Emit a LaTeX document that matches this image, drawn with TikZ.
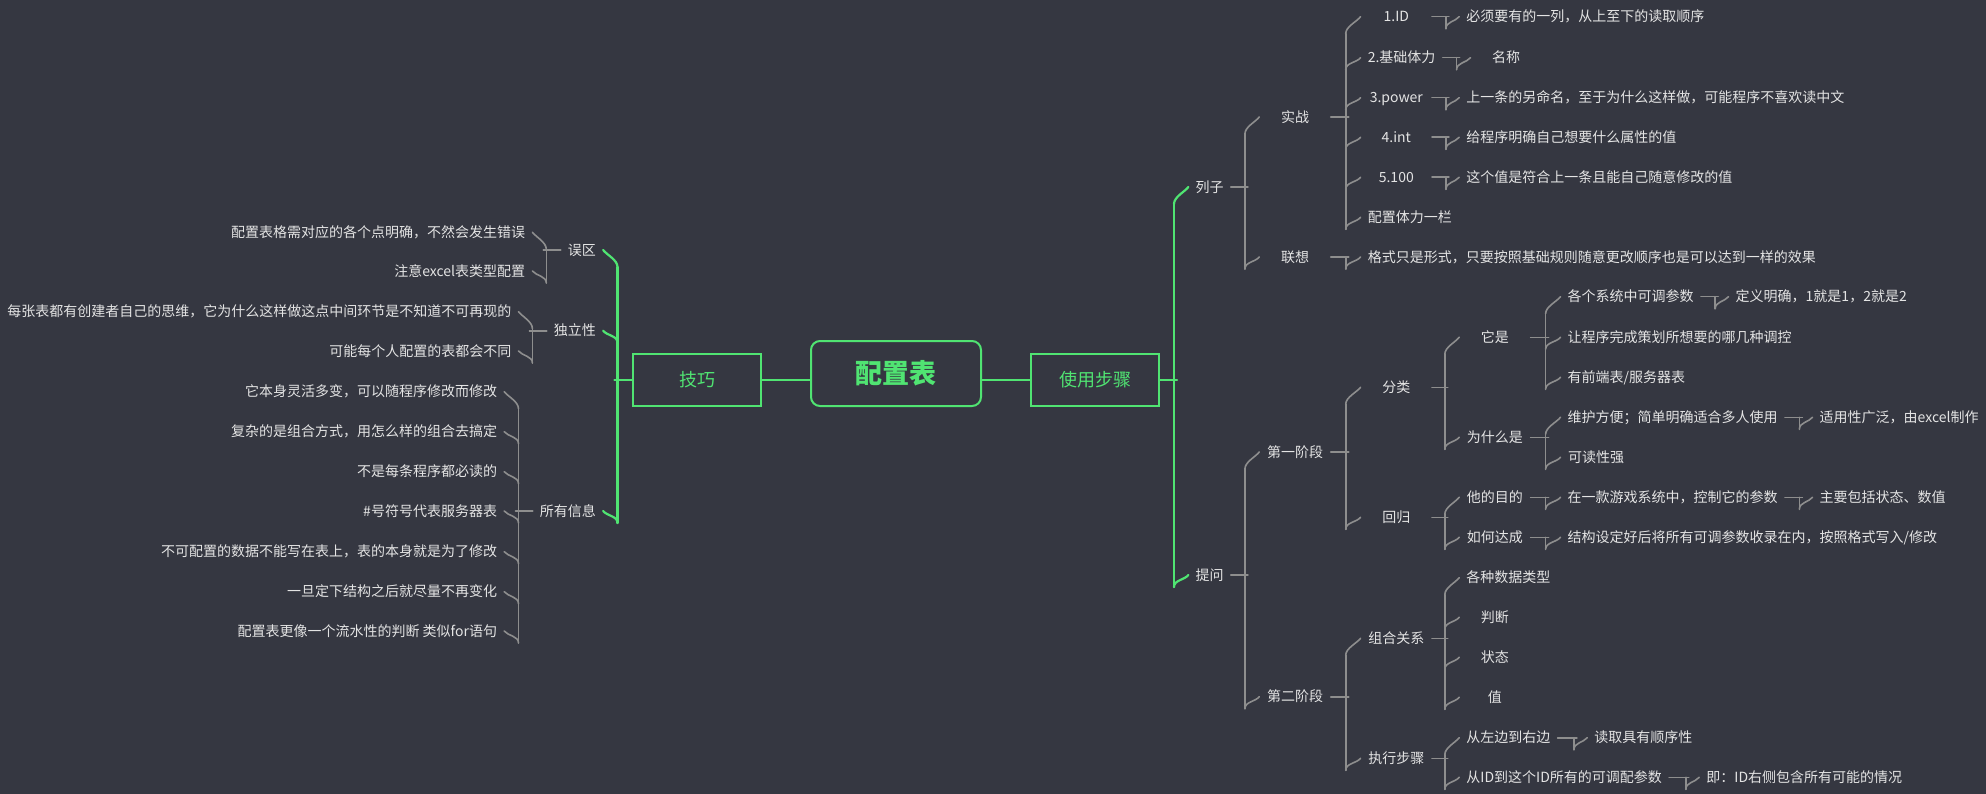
\documentclass[tikz,border=0pt]{standalone}
\usepackage{fontspec}
\newfontfamily\cjk{Noto Sans CJK SC}
\usetikzlibrary{calc}
\definecolor{bgc}{HTML}{353741}
\definecolor{greenc}{HTML}{50E472}
\definecolor{linec}{HTML}{8E8E8E}
\definecolor{txtc}{HTML}{E4E4E4}
% hook from trunk to a child, right side
\newcommand\hookR[4]{%
  \draw[#1] ($(#3.west -| #2)+(0,#4)$) .. controls ($(#3.west -| #2)+(0,#4-7)$) and ($(#3.west)+(-4,5)$) .. (#3.west);}
\newcommand\hookL[4]{%
  \draw[#1] ($(#3.east -| #2)+(0,#4)$) .. controls ($(#3.east -| #2)+(0,#4-7)$) and ($(#3.east)+(4,5)$) .. (#3.east);}
% fork: #1 style, #2 parent, #3 trunk x, #4 first child, #5 other children
\newcommand\forkR[5]{%
  \coordinate (tk) at (#3,0);
  \draw[#1] (#2.east) -- ($(#2.east -| tk)+(3,0)$);
  \ifx\relax#5\relax
    \hookR{#1}{tk}{#4}{12}
    \draw[#1] (#2.east -| tk) -- ($(#4.west -| tk)+(0,12)$);
  \else
    \hookR{#1}{tk}{#4}{17}
    \gdef\lastc{#4}%
    \foreach \c in {#5}{\hookR{#1}{tk}{\c}{12}\xdef\lastc{\c}}
    \draw[#1] ($(#4.west -| tk)+(0,17)$) -- ($(\lastc.west -| tk)+(0,12)$);
  \fi}
\newcommand\forkL[5]{%
  \coordinate (tk) at (#3,0);
  \draw[#1] (#2.west) -- ($(#2.west -| tk)+(-3,0)$);
  \ifx\relax#5\relax
    \hookL{#1}{tk}{#4}{12}
    \draw[#1] (#2.west -| tk) -- ($(#4.east -| tk)+(0,12)$);
  \else
    \hookL{#1}{tk}{#4}{17}
    \gdef\lastc{#4}%
    \foreach \c in {#5}{\hookL{#1}{tk}{\c}{12}\xdef\lastc{\c}}
    \draw[#1] ($(#4.east -| tk)+(0,17)$) -- ($(\lastc.east -| tk)+(0,12)$);
  \fi}
\begin{document}
\begin{tikzpicture}[x=1pt,y=-1pt,
  lbl/.style={text=txtc, font=\cjk\fontsize{14}{16}\selectfont, inner xsep=7pt, inner ysep=0pt, text height=12.5pt, text depth=2pt},
  sub/.style={lbl, minimum width=71pt},
  R/.style={anchor=west}, L/.style={anchor=east},
  conn/.style={draw=linec, line width=1.6pt, line cap=round},
  gconn/.style={draw=greenc, line width=2.2pt, line cap=round},
  mainbox/.style={draw=greenc, line width=2pt, text=greenc, font=\cjk\fontsize{18}{20}\selectfont, text height=16pt, text depth=2.3pt, minimum width=128pt, minimum height=52pt, inner sep=0pt},
  rootbox/.style={draw=greenc, line width=2pt, text=greenc, rounded corners=9pt, font=\cjk\bfseries\fontsize{27}{30}\selectfont, text height=24pt, text depth=3.4pt, minimum width=170pt, minimum height=65pt, inner sep=0pt}
]
\fill[bgc] (0,0) rectangle (1986,794);
\useasboundingbox (0,0) rectangle (1986,794);

% centre
\node[mainbox] (jq) at (697,380) {技巧};
\node[rootbox] (root) at (896,373.5) {配置表};
\node[mainbox] (sy) at (1095.2,380) {使用步骤};
\draw[gconn] (jq.east) -- (jq.east -| root.west);
\draw[gconn] (sy.west) -- (sy.west -| root.east);

% right side
\node[lbl,R] (lz) at (1188.4,187) {列子};
\node[lbl,R] (tw) at (1188.4,575) {提问};
\node[sub,R] (sz) at (1259.3,117) {实战};
\node[sub,R] (lx) at (1259.3,257) {联想};
\node[sub,R] (id) at (1360.6,16.7) {1.ID};
\node[sub,R] (jc) at (1360.6,57.7) {2.基础体力};
\node[sub,R] (pw) at (1360.6,97.7) {3.power};
\node[sub,R] (it) at (1360.6,137.3) {4.int};
\node[sub,R] (hd) at (1360.6,177.3) {5.100};
\node[sub,R] (pz) at (1360.6,217.3) {配置体力一栏};
\node[sub,R] (l1) at (1459.2,16.7) {必须要有的一列，从上至下的读取顺序};
\node[sub,R] (l2) at (1470.5,57.7) {名称};
\node[sub,R] (l3) at (1459.2,97.7) {上一条的另命名，至于为什么这样做，可能程序不喜欢读中文};
\node[sub,R] (l4) at (1459.2,137.3) {给程序明确自己想要什么属性的值};
\node[sub,R] (l5) at (1459.2,177.3) {这个值是符合上一条且能自己随意修改的值};
\node[sub,R] (l6) at (1360.6,257) {格式只是形式，只要按照基础规则随意更改顺序也是可以达到一样的效果};

\node[sub,R] (dy) at (1259.3,452) {第一阶段};
\node[sub,R] (de) at (1259.3,696.7) {第二阶段};
\node[sub,R] (fl) at (1360.6,387.3) {分类};
\node[sub,R] (hg) at (1360.6,517.3) {回归};
\node[sub,R] (ts) at (1459.2,337.3) {它是};
\node[sub,R] (wsm) at (1459.2,437.3) {为什么是};
\node[sub,R] (a1) at (1560.5,296.7) {各个系统中可调参数};
\node[sub,R] (a2) at (1560.5,337.3) {让程序完成策划所想要的哪几种调控};
\node[sub,R] (a3) at (1560.5,377.3) {有前端表/服务器表};
\node[sub,R] (a1x) at (1728.5,296.7) {定义明确，1就是1，2就是2};
\node[sub,R] (b1) at (1560.5,417.3) {维护方便；简单明确适合多人使用};
\node[sub,R] (b2) at (1560.5,457.3) {可读性强};
\node[sub,R] (b1x) at (1812.5,417.3) {适用性广泛，由excel制作};
\node[sub,R] (md) at (1459.2,497.3) {他的目的};
\node[sub,R] (hh) at (1459.2,537.3) {如何达成};
\node[sub,R] (c1) at (1560.5,497.3) {在一款游戏系统中，控制它的参数};
\node[sub,R] (c1x) at (1812.5,497.3) {主要包括状态、数值};
\node[sub,R] (d1) at (1560.5,537.3) {结构设定好后将所有可调参数收录在内，按照格式写入/修改};
\node[sub,R] (zh) at (1360.6,638.3) {组合关系};
\node[sub,R] (zx) at (1360.6,758.3) {执行步骤};
\node[sub,R] (e1) at (1459.2,577.7) {各种数据类型};
\node[sub,R] (e2) at (1459.2,617.3) {判断};
\node[sub,R] (e3) at (1459.2,657.3) {状态};
\node[sub,R] (e4) at (1459.2,697.3) {值};
\node[sub,R] (f1) at (1459.2,737.7) {从左边到右边};
\node[sub,R] (f2) at (1459.2,777.3) {从ID到这个ID所有的可调配参数};
\node[sub,R] (f1x) at (1587.2,737.7) {读取具有顺序性};
\node[sub,R] (f2x) at (1699.2,777.3) {即：ID右侧包含所有可能的情况};

\forkR{gconn}{sy}{1174}{lz}{tw}
\forkR{conn}{lz}{1244.9}{sz}{lx}
\forkR{conn}{sz}{1345.7}{id}{jc,pw,it,hd,pz}
\forkR{conn}{id}{1445.9}{l1}{}
\forkR{conn}{jc}{1456.6}{l2}{}
\forkR{conn}{pw}{1445.9}{l3}{}
\forkR{conn}{it}{1445.9}{l4}{}
\forkR{conn}{hd}{1445.9}{l5}{}
\forkR{conn}{lx}{1345.7}{l6}{}
\forkR{conn}{tw}{1244.9}{dy}{de}
\forkR{conn}{dy}{1345.7}{fl}{hg}
\forkR{conn}{fl}{1444.8}{ts}{wsm}
\forkR{conn}{ts}{1545.6}{a1}{a2,a3}
\forkR{conn}{a1}{1715.2}{a1x}{}
\forkR{conn}{wsm}{1545.6}{b1}{b2}
\forkR{conn}{b1}{1799.4}{b1x}{}
\forkR{conn}{hg}{1444.8}{md}{hh}
\forkR{conn}{md}{1545.6}{c1}{}
\forkR{conn}{c1}{1799.4}{c1x}{}
\forkR{conn}{hh}{1545.6}{d1}{}
\forkR{conn}{de}{1345.7}{zh}{zx}
\forkR{conn}{zh}{1444.8}{e1}{e2,e3,e4}
\forkR{conn}{zx}{1444.8}{f1}{f2}
\forkR{conn}{f1}{1573.9}{f1x}{}
\forkR{conn}{f2}{1685.8}{f2x}{}

% left side
\node[lbl,L] (wq) at (603.1,250) {误区};
\node[lbl,L] (dl) at (603.1,330.7) {独立性};
\node[lbl,L] (sx) at (603.1,511) {所有信息};
\node[sub,L] (p1) at (532.4,232.3) {配置表格需对应的各个点明确，不然会发生错误};
\node[sub,L] (p2) at (532.4,271) {注意excel表类型配置};
\node[sub,L] (q1) at (518.5,311.7) {每张表都有创建者自己的思维，它为什么这样做这点中间环节是不知道不可再现的};
\node[sub,L] (q2) at (518.5,351) {可能每个人配置的表都会不同};
\node[sub,L] (r1) at (504.2,391.7) {它本身灵活多变，可以随程序修改而修改};
\node[sub,L] (r2) at (504.2,431.7) {复杂的是组合方式，用怎么样的组合去搞定};
\node[sub,L] (r3) at (504.2,471.7) {不是每条程序都必读的};
\node[sub,L] (r4) at (504.2,511) {\#号符号代表服务器表};
\node[sub,L] (r5) at (504.2,551.7) {不可配置的数据不能写在表上，表的本身就是为了修改};
\node[sub,L] (r6) at (504.2,591.7) {一旦定下结构之后就尽量不再变化};
\node[sub,L] (r7) at (504.2,631) {配置表更像一个流水性的判断 类似for语句};

\forkL{gconn}{jq}{617.5}{wq}{dl,sx}
\forkL{conn}{wq}{546.3}{p1}{p2}
\forkL{conn}{dl}{532.4}{q1}{q2}
\forkL{conn}{sx}{518.5}{r1}{r2,r3,r4,r5,r6,r7}
\end{tikzpicture}
\end{document}
